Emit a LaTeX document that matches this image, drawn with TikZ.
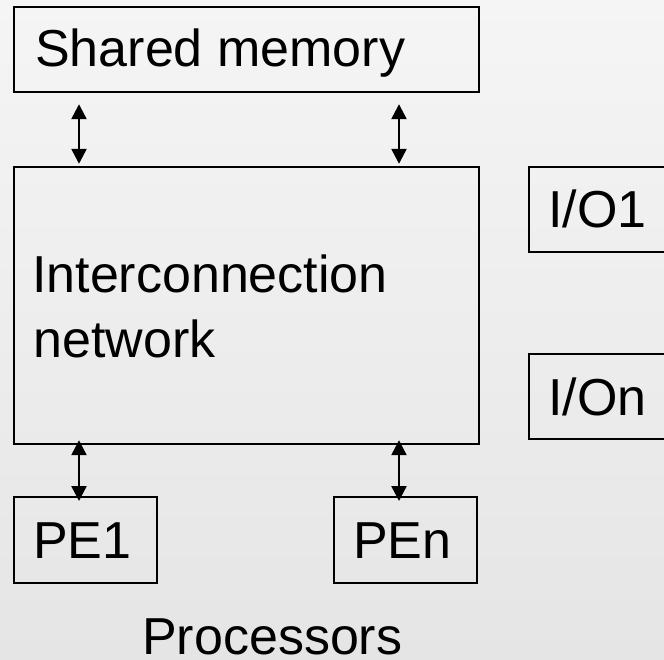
\documentclass[tikz,border=0pt]{standalone}
\usepackage{fontspec}
\setmainfont{Liberation Sans}
\usetikzlibrary{arrows.meta}
\definecolor{bgtop}{HTML}{F5F5F5}
\definecolor{bgbot}{HTML}{E5E5E5}
\tikzset{
  blk/.style={draw=black, line width=2.4pt, rectangle, inner sep=0pt},
  smallblk/.style={draw=black, line width=2pt, rectangle, inner sep=0pt},
  lbl/.style={inner sep=0pt, anchor=base west, font=\fontsize{52}{64}\selectfont, text=black},
  link/.style={line width=2.4pt, {Triangle[width=15pt,length=15pt]}-{Triangle[width=15pt,length=15pt]}},
}
\begin{document}
\begin{tikzpicture}[x=1pt, y=-1pt]
  % page area and background
  \clip (0,0) rectangle (664,660);
  \fill[top color=bgtop, bottom color=bgbot] (0,0) rectangle (664,660);

  % blocks
  \node[blk, minimum width=465pt, minimum height=85pt] (mem) at (246.5,49.5) {};
  \node[blk, minimum width=465pt, minimum height=277pt] (net) at (246.5,305.5) {};
  \node[smallblk, minimum width=143pt, minimum height=86pt] (pe1) at (85.5,540) {};
  \node[smallblk, minimum width=143pt, minimum height=86pt] (pen) at (405.5,540) {};
  \node[smallblk, minimum width=171pt, minimum height=85pt] (io1) at (614.5,209.5) {};
  \node[smallblk, minimum width=171pt, minimum height=85pt] (ion) at (614.5,396.5) {};

  % labels
  \node[lbl] (memtxt) at (35,67) {Shared memory};
  \node[lbl] (nettxt1) at (32,293) {Interconnection};
  \node[lbl] (nettxt2) at (33.5,357) {network};
  \node[lbl] (pe1txt) at (33,558) {PE1};
  \node[lbl] (pentxt) at (353,558) {PEn};
  \node[lbl] (io1txt) at (548,228) {I/O1};
  \node[lbl] (iontxt) at (548,415) {I/On};
  \node[lbl] (proctxt) at (142,654) {Processors};

  % columns of the links
  \coordinate (colA) at (79,0);
  \coordinate (colB) at (399,0);

  % links between memory, network and processors
  \draw[link] ([yshift=-11pt]mem.south -| colA) -- ([yshift=2pt]net.north -| colA);
  \draw[link] ([yshift=-11pt]mem.south -| colB) -- ([yshift=2pt]net.north -| colB);
  \draw[link] ([yshift=5pt]net.south -| colA) -- ([yshift=-5pt]pe1.north -| colA);
  \draw[link] ([yshift=5pt]net.south -| colB) -- ([yshift=-5pt]pen.north -| colB);
\end{tikzpicture}
\end{document}
